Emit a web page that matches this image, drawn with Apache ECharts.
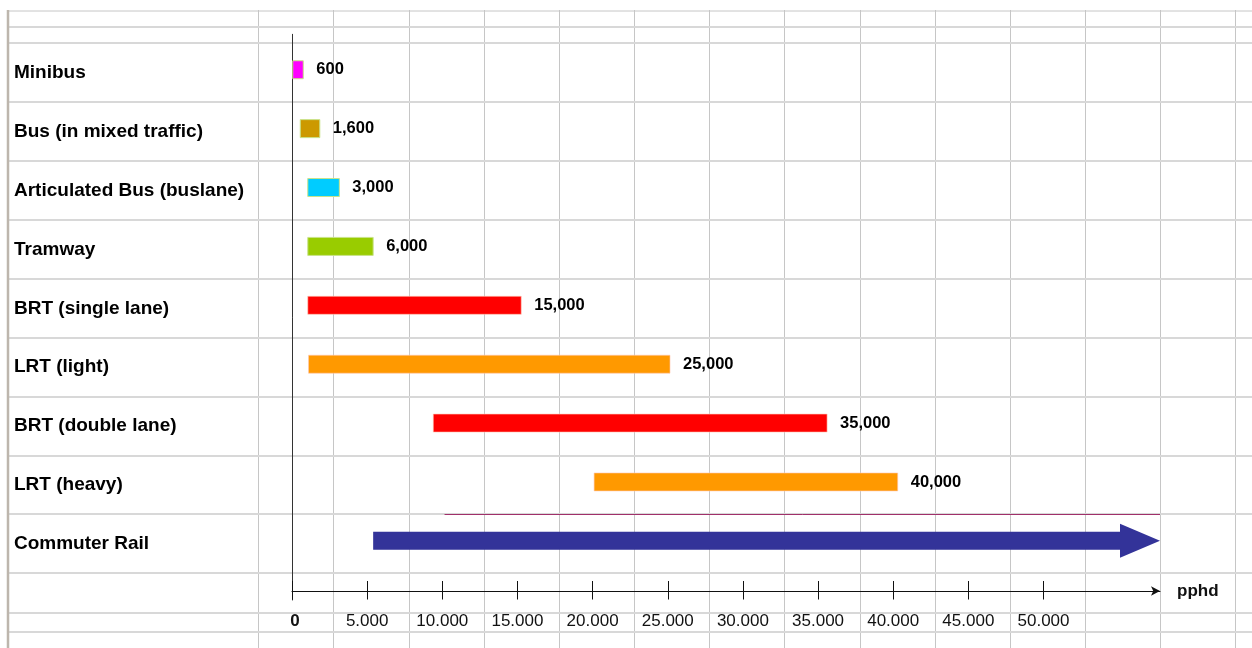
<!DOCTYPE html>
<html><head><meta charset="utf-8">
<script src="https://cdn.jsdelivr.net/npm/echarts@6/dist/echarts.min.js"></script>
<style>html,body{margin:0;padding:0;background:#fff}#c{width:1252px;height:648px}</style>
</head><body><div id="c"></div>
<script>
// ---- data ----
const categories = ['Minibus', 'Bus (in mixed traffic)', 'Articulated Bus (buslane)', 'Tramway',
  'BRT (single lane)', 'LRT (light)', 'BRT (double lane)', 'LRT (heavy)', 'Commuter Rail'];
const barStart = [50, 550, 1050, 1050, 1050, 1100, 9400, 20100, 5400];
const barEnd = [750, 1850, 3150, 5400, 15250, 25150, 35600, 40300, 57750];
const capacity = [600, 1600, 3000, 6000, 15000, 25000, 35000, 40000, null];
const tickValues = [0, 5000, 10000, 15000, 20000, 25000, 30000, 35000, 40000, 45000, 50000];
const tickLabels = ['0', '5.000', '10.000', '15.000', '20.000', '25.000', '30.000', '35.000', '40.000', '45.000', '50.000'];
const dividerRange = [10150, 57750];
const axisMax = 57750;
const axisName = 'pphd';

// ---- styles ----
const barColors = ['#ff00ff', '#cc9900', '#00ccff', '#99cc00', '#ff0000', '#ff9900', '#ff0000', '#ff9900', '#333399'];
const FONT = '"Liberation Sans", Arial, Helvetica, sans-serif';

// spreadsheet background grid (decoration)
const sheetRows = [10.7, 26.7];
for (let k = 0; k <= 9; k++) sheetRows.push(43.3 + 58.89 * k);
sheetRows.push(612.7, 631.7);
const sheetCols = [];
for (let k = 0; k <= 13; k++) sheetCols.push(258.3 + 75.15 * k);
const gfx = [];
sheetCols.forEach(x => gfx.push({type: 'line', z: -10, silent: true,
  shape: {x1: Math.round(x) + 0.5, y1: 10, x2: Math.round(x) + 0.5, y2: 648},
  style: {stroke: '#c6c6c6', lineWidth: 1}}));
sheetRows.forEach((y, i) => gfx.push({type: 'line', z: -10, silent: true,
  shape: {x1: 8, y1: Math.round(y), x2: 1252, y2: Math.round(y)},
  style: {stroke: i === 0 ? '#c6c6c6' : '#d8d8d8', lineWidth: i === 0 ? 1 : 2}}));
gfx.push({type: 'line', z: -9, silent: true, shape: {x1: 8, y1: 10, x2: 8, y2: 648},
  style: {stroke: '#bdb6ad', lineWidth: 2.5}});

const chart = echarts.init(document.getElementById('c'), null, {renderer: 'canvas'});
const last = categories.length - 1;

chart.setOption({
  backgroundColor: '#ffffff',
  animation: false,
  graphic: {elements: gfx},
  grid: [
    {left: 292, right: 92, top: 43.3, bottom: 74.7, containLabel: false, outerBoundsMode: 'none'},
    {left: 292, right: 92, top: 34.3, bottom: 48, containLabel: false, outerBoundsMode: 'none'}
  ],
  xAxis: [
    {
      gridIndex: 0, type: 'value', min: 0, max: axisMax, position: 'bottom', offset: 17.7,
      axisLine: {show: true, symbol: ['none', 'arrow'], symbolSize: [7, 9], lineStyle: {color: '#111', width: 1}},
      axisTick: {show: true, customValues: tickValues, length: 8.5, lineStyle: {color: '#111', width: 1}},
      axisLabel: {
        show: true, customValues: tickValues, margin: 22, fontSize: 17, fontFamily: FONT, color: '#111',
        formatter: v => {
          const i = tickValues.indexOf(v);
          if (i < 0) return '';
          return v === 0 ? '{z|' + tickLabels[i] + '}' : tickLabels[i];
        },
        rich: {z: {fontWeight: 'bold', fontSize: 17, fontFamily: FONT, color: '#111', padding: [0, 0, 0, 6]}}
      },
      splitLine: {show: false},
      name: axisName, nameLocation: 'end', nameGap: 17,
      nameTextStyle: {fontWeight: 'bold', fontSize: 17, fontFamily: FONT, color: '#111', verticalAlign: 'middle', padding: [4, 0, 0, 0]}
    },
    {
      gridIndex: 0, type: 'value', min: 0, max: axisMax, position: 'bottom', offset: 17.7,
      axisLine: {show: false},
      axisTick: {show: true, inside: true, customValues: tickValues, length: 10, lineStyle: {color: '#111', width: 1}},
      axisLabel: {show: false}, splitLine: {show: false}
    },
    {gridIndex: 1, type: 'value', min: 0, max: 1, show: false}
  ],
  yAxis: [
    {
      gridIndex: 0, type: 'category', data: categories, inverse: true,
      axisLine: {show: false}, axisTick: {show: false}, splitLine: {show: false},
      axisLabel: {margin: 278, align: 'left', fontSize: 19, fontWeight: 'bold', fontFamily: FONT, color: '#000'}
    },
    {
      gridIndex: 1, type: 'value', min: 0, max: 1,
      axisLine: {show: true, lineStyle: {color: '#333', width: 1}},
      axisTick: {show: false}, axisLabel: {show: false}, splitLine: {show: false}
    }
  ],
  series: [
    {
      type: 'custom', xAxisIndex: 0, yAxisIndex: 0, clip: false, z: 3,
      data: [[dividerRange[0], dividerRange[1], last]],
      encode: {x: [0, 1], y: 2},
      renderItem: (params, api) => {
        const p0 = api.coord([api.value(0), api.value(2)]);
        const p1 = api.coord([api.value(1), api.value(2)]);
        const half = api.size([0, 1])[1] / 2;
        const y = Math.round(p0[1] - half) + 0.5;
        return {type: 'line', shape: {x1: p0[0], y1: y, x2: p1[0], y2: y},
          style: {stroke: '#a0306a', lineWidth: 1}};
      }
    },
    {
      type: 'custom', xAxisIndex: 0, yAxisIndex: 0, clip: false, z: 4,
      data: categories.map((c, i) => [barStart[i], barEnd[i], i, capacity[i]]),
      encode: {x: [0, 1], y: 2},
      renderItem: (params, api) => {
        const i = api.value(2);
        const p0 = api.coord([api.value(0), i]);
        const p1 = api.coord([api.value(1), i]);
        const y = p0[1] - 3;
        const color = barColors[i];
        if (i === last) {
          const hb = 9, hh = 17, hl = 40;
          return {type: 'polygon', shape: {points: [
            [p0[0], y - hb], [p1[0] - hl, y - hb], [p1[0] - hl, y - hh], [p1[0], y],
            [p1[0] - hl, y + hh], [p1[0] - hl, y + hb], [p0[0], y + hb]]},
            style: {fill: color}};
        }
        const h = 18;
        const big = i >= 4;
        const cap = capacity[i];
        return {type: 'group', children: [
          {type: 'rect', shape: {x: p0[0], y: y - h / 2, width: p1[0] - p0[0], height: h},
            style: {fill: color, stroke: big ? 'rgba(255,200,180,0.6)' : '#c9e38a', lineWidth: 1}},
          {type: 'text', style: {text: cap.toLocaleString('en-US'), x: p1[0] + 13, y: y,
            verticalAlign: 'middle', align: 'left', fontSize: 16.5, fontWeight: 'bold', fontFamily: FONT, fill: '#000'}}
        ]};
      }
    }
  ]
});
</script>
</body></html>
